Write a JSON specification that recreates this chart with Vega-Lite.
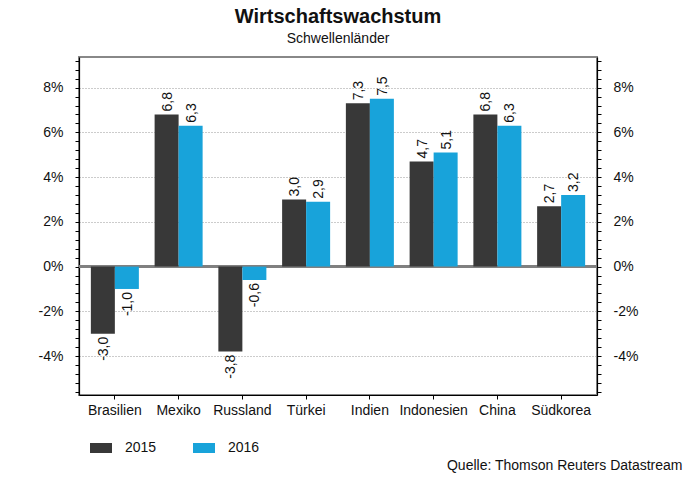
{
  "$schema": "https://vega.github.io/schema/vega-lite/v6.json",
  "autosize": {"type": "none"},
  "width": 518,
  "height": 338,
  "padding": {"left": 79, "top": 57, "right": 103, "bottom": 105},
  "background": "white",
  "config": {
    "font": "Liberation Sans",
    "view": {"stroke": "#888888", "strokeWidth": 2},
    "locale": {"number": {"decimal": ",", "thousands": ".", "grouping": [3], "currency": ["", " €"], "minus": "-"}},
    "axisX": {
      "labelAngle": 0,
      "labelFontSize": 14,
      "labelColor": "#111111",
      "labelPadding": 4,
      "labelFont": "Liberation Sans",
      "tickSize": 4,
      "tickColor": "#000000",
      "domainColor": "#000000",
      "domainWidth": 1.2,
      "titleFont": "Liberation Sans",
      "titleFontSize": 14,
      "titleFontWeight": "normal",
      "titleColor": "#111111",
      "titleAnchor": "end",
      "titleAlign": "right",
      "titleBaseline": "middle",
      "titleX": 603,
      "titleY": 70
    }
  },
  "title": {
    "text": "Wirtschaftswachstum",
    "subtitle": "Schwellenländer",
    "anchor": "middle",
    "font": "Liberation Sans",
    "fontSize": 20,
    "fontWeight": "bold",
    "color": "#111111",
    "subtitleFont": "Liberation Sans",
    "subtitleFontSize": 14,
    "subtitleColor": "#111111",
    "offset": 8,
    "subtitlePadding": 5
  },
  "data": {
    "values": [
      {"country": "Brasilien", "year": "2015", "value": -3.0},
      {"country": "Brasilien", "year": "2016", "value": -1.0},
      {"country": "Mexiko", "year": "2015", "value": 6.8},
      {"country": "Mexiko", "year": "2016", "value": 6.3},
      {"country": "Russland", "year": "2015", "value": -3.8},
      {"country": "Russland", "year": "2016", "value": -0.6},
      {"country": "Türkei", "year": "2015", "value": 3.0},
      {"country": "Türkei", "year": "2016", "value": 2.9},
      {"country": "Indien", "year": "2015", "value": 7.3},
      {"country": "Indien", "year": "2016", "value": 7.5},
      {"country": "Indonesien", "year": "2015", "value": 4.7},
      {"country": "Indonesien", "year": "2016", "value": 5.1},
      {"country": "China", "year": "2015", "value": 6.8},
      {"country": "China", "year": "2016", "value": 6.3},
      {"country": "Südkorea", "year": "2015", "value": 2.7},
      {"country": "Südkorea", "year": "2016", "value": 3.2}
    ]
  },
  "resolve": {"axis": {"y": "independent"}},
  "layer": [
    {
      "mark": {"type": "rule", "color": "#808080", "strokeWidth": 1.5},
      "encoding": {
        "y": {
          "datum": 0,
          "type": "quantitative",
          "scale": {"domain": [-5.74, 9.37], "nice": false, "zero": false},
          "axis": {
            "orient": "right",
            "title": null,
            "values": [-5.6, -5.2, -4.8, -4.4, -4, -3.6, -3.2, -2.8, -2.4, -2, -1.6, -1.2, -0.8, -0.4, 0, 0.4, 0.8, 1.2, 1.6, 2, 2.4, 2.8, 3.2, 3.6, 4, 4.4, 4.8, 5.2, 5.6, 6, 6.4, 6.8, 7.2, 7.6, 8, 8.4, 8.8, 9.2],
            "labelExpr": "abs(datum.value % 2) < 0.01 ? datum.value + '%' : ''",
            "labelOverlap": false,
            "labelFontSize": 14,
            "labelColor": "#111111",
            "labelPadding": 12,
            "labelFont": "Liberation Sans",
            "tickSize": 4,
            "tickColor": "#000000",
            "domainColor": "#000000",
            "domainWidth": 1.2,
            "grid": false
          }
        }
      }
    },
    {
      "mark": {"type": "bar"},
      "encoding": {
        "x": {
          "field": "country",
          "type": "nominal",
          "sort": null,
          "scale": {"paddingInner": 0.247, "paddingOuter": 0.186},
          "title": "Quelle: Thomson Reuters Datastream"
        },
        "xOffset": {"field": "year", "type": "nominal", "scale": {"paddingInner": 0, "paddingOuter": 0}},
        "y": {
          "field": "value",
          "type": "quantitative",
          "scale": {"domain": [-5.74, 9.37], "nice": false, "zero": false},
          "axis": {
            "orient": "left",
            "title": null,
            "values": [-5.6, -5.2, -4.8, -4.4, -4, -3.6, -3.2, -2.8, -2.4, -2, -1.6, -1.2, -0.8, -0.4, 0, 0.4, 0.8, 1.2, 1.6, 2, 2.4, 2.8, 3.2, 3.6, 4, 4.4, 4.8, 5.2, 5.6, 6, 6.4, 6.8, 7.2, 7.6, 8, 8.4, 8.8, 9.2],
            "labelExpr": "abs(datum.value % 2) < 0.01 ? datum.value + '%' : ''",
            "labelOverlap": false,
            "labelFontSize": 14,
            "labelColor": "#111111",
            "labelPadding": 12,
            "labelFont": "Liberation Sans",
            "tickSize": 4,
            "tickColor": "#000000",
            "domainColor": "#000000",
            "domainWidth": 1.2,
            "grid": true,
            "gridColor": "#999999",
            "gridDash": [1, 2],
            "gridWidth": 1,
            "gridOpacity": {"condition": {"test": "abs(datum.value % 2) < 0.01 && datum.value != 0", "value": 1}, "value": 0}
          }
        },
        "color": {
          "field": "year",
          "type": "nominal",
          "scale": {"domain": ["2015", "2016"], "range": ["#383838", "#18a3da"]},
          "legend": {
            "title": null,
            "orient": "none",
            "direction": "horizontal",
            "legendX": 11,
            "legendY": 380,
            "symbolType": "M-1,-0.4545H1V0.4545H-1Z",
            "symbolSize": 484,
            "symbolStrokeWidth": 0,
            "symbolOpacity": 1,
            "labelFontSize": 14,
            "labelFont": "Liberation Sans",
            "labelColor": "#111111",
            "labelOffset": 13,
            "columnPadding": 36
          }
        }
      }
    },
    {
      "transform": [{"filter": "datum.value >= 0"}],
      "mark": {"type": "text", "angle": 270, "align": "left", "baseline": "middle", "dx": 3, "dy": 1, "fontSize": 14, "color": "#111111", "font": "Liberation Sans"},
      "encoding": {
        "x": {"field": "country", "type": "nominal", "sort": null, "title": "Quelle: Thomson Reuters Datastream"},
        "xOffset": {"field": "year", "type": "nominal"},
        "y": {"field": "value", "type": "quantitative", "axis": null},
        "text": {"field": "value", "type": "quantitative", "format": ".1f"}
      }
    },
    {
      "transform": [{"filter": "datum.value < 0"}],
      "mark": {"type": "text", "angle": 270, "align": "right", "baseline": "middle", "dx": -3, "dy": 1, "fontSize": 14, "color": "#111111", "font": "Liberation Sans"},
      "encoding": {
        "x": {"field": "country", "type": "nominal", "sort": null, "title": "Quelle: Thomson Reuters Datastream"},
        "xOffset": {"field": "year", "type": "nominal"},
        "y": {"field": "value", "type": "quantitative", "axis": null},
        "text": {"field": "value", "type": "quantitative", "format": ".1f"}
      }
    }
  ]
}
